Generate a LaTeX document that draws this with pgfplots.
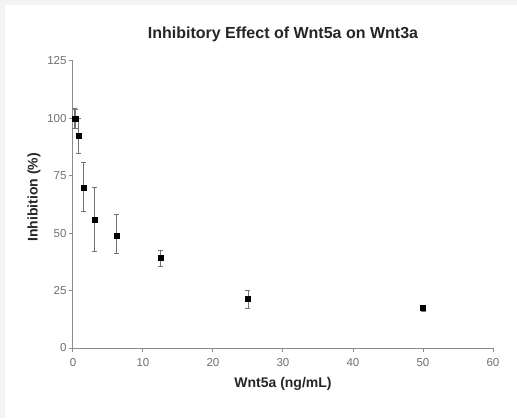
\documentclass[border=0pt]{standalone}
\usepackage{pgfplots}
\pgfplotsset{compat=1.18}
\usepackage{fontspec}
\setmainfont{Liberation Sans}
\definecolor{axgray}{HTML}{8C8C8C}
\definecolor{ticktext}{HTML}{707070}
\definecolor{edge}{HTML}{F3F3F3}
\begin{document}
\begin{tikzpicture}[x=1pt,y=1pt]
\fill[edge] (-73,-70) rectangle (444,348);
\fill[white] (-68,-70) rectangle (444,343);
\begin{axis}[
  at={(0,0)}, anchor=south west,
  scale only axis, width=420pt, height=287pt,
  xmin=0, xmax=60, ymin=0, ymax=125,
  axis lines*=left,
  axis line style={axgray, line width=1pt},
  xtick={0,10,...,60}, ytick={0,25,...,125},
  tick style={axgray, line width=1pt},
  tick align=outside, major tick length=4pt,
  ticklabel style={font=\fontsize{11.5}{13}\selectfont, text=ticktext},
  xticklabel style={yshift=-3pt},
  yticklabel style={xshift=1pt},
  /pgf/number format/assume math mode=true,
  xlabel={\textbf{Wnt5a (ng/mL)}},
  ylabel={\textbf{Inhibition (\%)}},
  label style={font=\fontsize{14}{16}\selectfont, text=black!85},
  xlabel style={yshift=-4pt},
  ylabel style={yshift=0pt, at={(ticklabel cs:0.525)}},
  title={\textbf{Inhibitory Effect of Wnt5a on Wnt3a}},
  title style={font=\fontsize{16}{18}\selectfont, text=black!85, yshift=10pt},
  clip=false,
]
\addplot[black, only marks, mark=square*, mark size=2.5pt,
  error bars/.cd, y dir=both, y explicit,
  error bar style={black!55, line width=0.9pt},
  error mark options={rotate=90, mark size=2.5pt, black!55, line width=0.9pt}]
  table[x=x, y=y, y error plus=ep, y error minus=em] {
x y ep em
0.195 100 4.2 4.2
0.39 99.8 4.0 4.0
0.78 92.4 7.6 7.6
1.5625 70.0 11.0 10.6
3.125 55.8 14.0 13.8
6.25 49.1 9.0 8.1
12.5 39.3 3.4 3.8
25 21.4 3.5 4.0
50 17.4 1.3 1.3
};
\end{axis}
\end{tikzpicture}
\end{document}
